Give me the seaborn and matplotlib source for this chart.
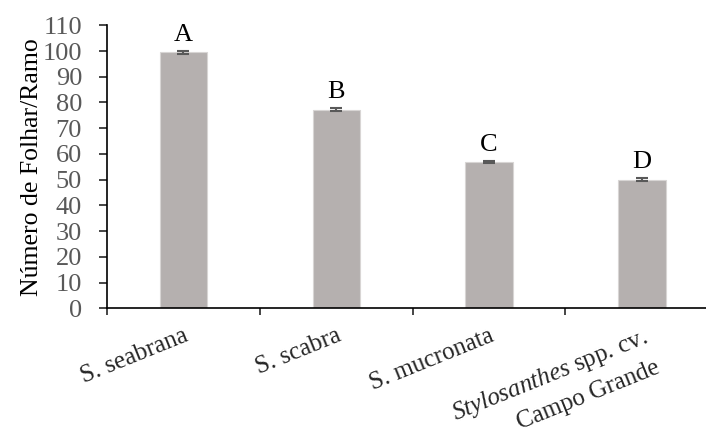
import pandas as pd
import numpy as np
import matplotlib
matplotlib.use("Agg")
import matplotlib.pyplot as plt
import seaborn as sns

especies = ["S. seabrana", "S. scabra", "S. mucronata",
            "$\\it{Stylosanthes}$ spp. cv.\nCampo Grande"]
folhar_ramo = [99.5, 77.2, 56.8, 50.0]
erro = [0.5, 0.5, 0.5, 0.5]
letras = ["A", "B", "C", "D"]

df = pd.DataFrame({"especie": especies, "folhar": folhar_ramo})

sns.set_theme(style="white")
plt.rcParams["font.family"] = ["Liberation Serif", "DejaVu Serif"]
plt.rcParams["mathtext.fontset"] = "custom"
plt.rcParams["mathtext.it"] = "Liberation Serif:italic"
plt.rcParams["mathtext.rm"] = "Liberation Serif"

fig = plt.figure(figsize=(7.06, 4.29), dpi=100)
ax = fig.add_axes([0.1516, 0.2813, 1.0 - 0.1516, 0.941 - 0.2813])

sns.barplot(data=df, x="especie", y="folhar", order=especies, color="#B5B0AF",
            width=0.31, saturation=1, errorbar=None, edgecolor="#D8D5D4",
            linewidth=0.8, ax=ax)

pos = np.arange(len(especies))
ax.errorbar(pos, folhar_ramo, yerr=erro, fmt="none", ecolor="#595959",
            elinewidth=1.5, capsize=4.5, capthick=1.5)

for x, v, l in zip(pos, folhar_ramo, letras):
    ax.text(x, v + 2.5, l, ha="center", va="bottom", fontsize=19, color="black")

ax.set_ylim(0, 110)
ax.set_xlim(-0.5, 3.42)
ax.set_yticks(range(0, 111, 10))
ax.tick_params(axis="y", direction="out", length=6, width=1.2, labelsize=19,
               labelcolor="#595959", left=True, pad=12)

ax.set_xticks([-0.5, 0.5, 1.5, 2.5])
ax.set_xticklabels([])
ax.tick_params(axis="x", which="major", direction="out", length=5, width=1.2,
               bottom=True)
ax.set_xticks(pos, minor=True)
ax.set_xticklabels(especies, minor=True, rotation=22, ha="right", va="top",
                   rotation_mode="anchor", fontsize=18, multialignment="right",
                   linespacing=1.45)
ax.tick_params(axis="x", which="minor", length=0, pad=12)

ax.set_xlabel("")
ax.set_ylabel("Número de Folhar/Ramo", fontsize=18.5, color="black", labelpad=0)

for s in ["top", "right"]:
    ax.spines[s].set_visible(False)
for s in ["left", "bottom"]:
    ax.spines[s].set_color("black")
    ax.spines[s].set_linewidth(1.2)

fig.savefig("out.png", dpi=100)
